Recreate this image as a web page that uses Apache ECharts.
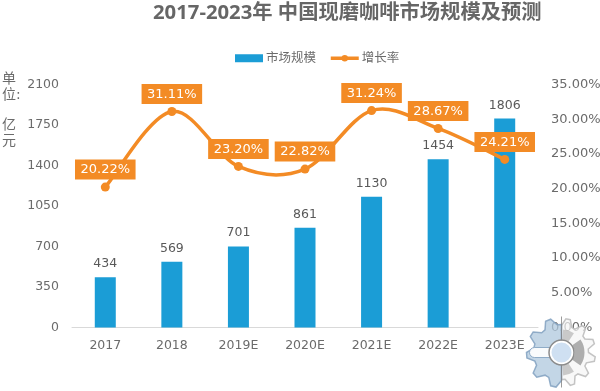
<!DOCTYPE html>
<html><head><meta charset="utf-8">
<style>html,body{margin:0;padding:0;background:#fff}#c{width:600px;height:391px}</style>
<script src="https://cdn.jsdelivr.net/npm/echarts@6/dist/echarts.min.js"></script>
</head><body><div id="c"></div>
<script>
const categories = ['2017','2018','2019E','2020E','2021E','2022E','2023E'];
const marketSize = [434,569,701,861,1130,1454,1806];
const growthRate = [20.22,31.11,23.20,22.82,31.24,28.67,24.21];
const FONT = '"DejaVu Sans","Noto Sans CJK SC",sans-serif';
const GREY = '#6b6b6b', ORANGE = '#F38B25', BLUE = '#1B9DD6';

function gearPoints(cx, cy, rOuter, rInner, teeth, from, to) {
  const pts = [];
  const n = teeth * 4;
  for (let i = 0; i <= n; i++) {
    const a = from + (to - from) * i / n;
    const r = (i % 4 === 1 || i % 4 === 2) ? rOuter : rInner;
    pts.push([cx + r * Math.cos(a), cy + r * Math.sin(a)]);
  }
  return pts;
}
const wx = 561.5, wy = 352.5;
const leftGear = gearPoints(wx, wy, 35, 28, 5, Math.PI / 2, Math.PI * 1.5);
const rightGear = gearPoints(wx, wy, 34, 27, 6, -Math.PI / 2, Math.PI / 2);

// Spreadsheet-style smoothed line: one cubic segment per pair of points, placed by the chart's own axes.
function renderCurve(params, api) {
  const i = params.dataIndex;
  if (i >= growthRate.length - 1) return null;
  const at = k => {
    const j = Math.max(0, Math.min(growthRate.length - 1, k));
    return api.coord([j, growthRate[j]]);
  };
  const p0 = at(i - 1), p1 = at(i), p2 = at(i + 1), p3 = at(i + 2);
  const t = 1 / 6;
  return {
    type:'bezierCurve',
    shape:{x1:p1[0],y1:p1[1],x2:p2[0],y2:p2[1],
      cpx1:p1[0]+(p2[0]-p0[0])*t,cpy1:p1[1]+(p2[1]-p0[1])*t,
      cpx2:p2[0]-(p3[0]-p1[0])*t,cpy2:p2[1]-(p3[1]-p1[1])*t},
    style:{stroke:ORANGE,lineWidth:3.5,fill:null,lineCap:'round'},
    silent:true
  };
}

const chart = echarts.init(document.getElementById('c'), null, {renderer:'canvas'});
chart.setOption({
  animation:false,
  textStyle:{fontFamily:FONT},
  title:{text:'2017-2023年 中国现磨咖啡市场规模及预测',left:153,top:3,padding:0,
    textStyle:{fontFamily:'"Open Sans","Noto Sans CJK SC",sans-serif',fontSize:20.3,fontWeight:'bold',color:'#666666'}},
  legend:{left:235,top:52,padding:0,itemGap:13,itemWidth:28,itemHeight:8,
    textStyle:{fontFamily:FONT,fontSize:12.5,color:GREY,padding:[0,0,0,-2]},
    data:[{name:'市场规模',icon:'rect'},{name:'增长率',lineStyle:{color:ORANGE,width:3.5,opacity:1}}]},
  grid:{left:72,right:62,top:84.5,bottom:63.5,outerBoundsMode:'none'},
  xAxis:{type:'category',data:categories,
    axisLine:{lineStyle:{color:'#D9D9D9',width:1}},axisTick:{show:false},
    axisLabel:{color:GREY,fontSize:12.5,margin:12,fontFamily:FONT}},
  yAxis:[
    {type:'value',min:0,max:2100,interval:350,splitLine:{show:false},axisLine:{show:false},axisTick:{show:false},
     axisLabel:{color:GREY,fontSize:12.5,margin:13,fontFamily:FONT,formatter:v=>String(v)}},
    {type:'value',min:0,max:35,interval:5,splitLine:{show:false},axisLine:{show:false},axisTick:{show:false},
     axisLabel:{color:GREY,fontSize:13,margin:13,fontFamily:FONT,formatter:v=>v.toFixed(2)+'%'}}
  ],
  series:[
    {name:'市场规模',type:'bar',data:marketSize,barWidth:21,itemStyle:{color:BLUE},z:1,
     label:{show:true,position:'top',distance:7,color:'#595959',fontSize:12.5,fontFamily:FONT}},
    {name:'增长曲线',type:'custom',yAxisIndex:1,z:3,data:growthRate.map((v,i)=>[i,v]),
     encode:{x:0,y:1},renderItem:renderCurve,silent:true},
    {name:'增长率',type:'line',yAxisIndex:1,data:growthRate,z:4,symbol:'circle',symbolSize:9,
     lineStyle:{color:ORANGE,width:0,opacity:0},itemStyle:{color:ORANGE},
     label:{show:true,position:'top',distance:3,color:'#fff',fontSize:13,fontFamily:FONT,
       backgroundColor:ORANGE,padding:[4,5.5,3,5.5],formatter:p=>p.value.toFixed(2)+'%'}}
  ],
  graphic:[
    {type:'text',left:2,top:71,style:{text:'单\n位:',fontSize:14,lineHeight:16,fill:GREY,fontFamily:FONT}},
    {type:'text',left:2,top:117,style:{text:'亿\n元',fontSize:14,lineHeight:16,fill:GREY,fontFamily:FONT}},
    {type:'polygon',z:50,shape:{points:rightGear},style:{fill:'rgba(245,245,245,0.7)',stroke:'rgba(190,190,190,0.9)',lineWidth:1.5}},
    {type:'sector',z:50,shape:{cx:wx,cy:wy,r0:13,r:23,startAngle:-0.6,endAngle:0.6},style:{fill:'rgba(150,150,150,0.75)'}},
    {type:'sector',z:50,shape:{cx:wx,cy:wy,r0:13,r:23,startAngle:-1.5,endAngle:-1.0},style:{fill:'rgba(170,170,170,0.6)'}},
    {type:'sector',z:50,shape:{cx:wx,cy:wy,r0:13,r:23,startAngle:1.0,endAngle:1.5},style:{fill:'rgba(170,170,170,0.6)'}},
    {type:'polygon',z:50,shape:{points:leftGear},style:{fill:'rgba(175,200,222,0.75)',stroke:'rgba(135,165,195,0.9)',lineWidth:1.5}},
    {type:'rect',z:50,shape:{x:wx-32,y:wy-5,width:32,height:10,r:5},style:{fill:'rgba(255,255,255,0.9)',stroke:'rgba(135,165,195,0.9)',lineWidth:1}},
    {type:'line',z:51,shape:{x1:wx,y1:wy-36,x2:wx,y2:wy+35},style:{stroke:'rgba(130,130,130,0.8)',lineWidth:1}},
    {type:'circle',z:52,shape:{cx:wx,cy:wy,r:11},style:{fill:'#cfe0f2',stroke:'#ffffff',lineWidth:2}},
    {type:'circle',z:53,shape:{cx:wx,cy:wy,r:12.5},style:{fill:'transparent',stroke:'#8c8c8c',lineWidth:1.5}}
  ]
});
</script></body></html>
